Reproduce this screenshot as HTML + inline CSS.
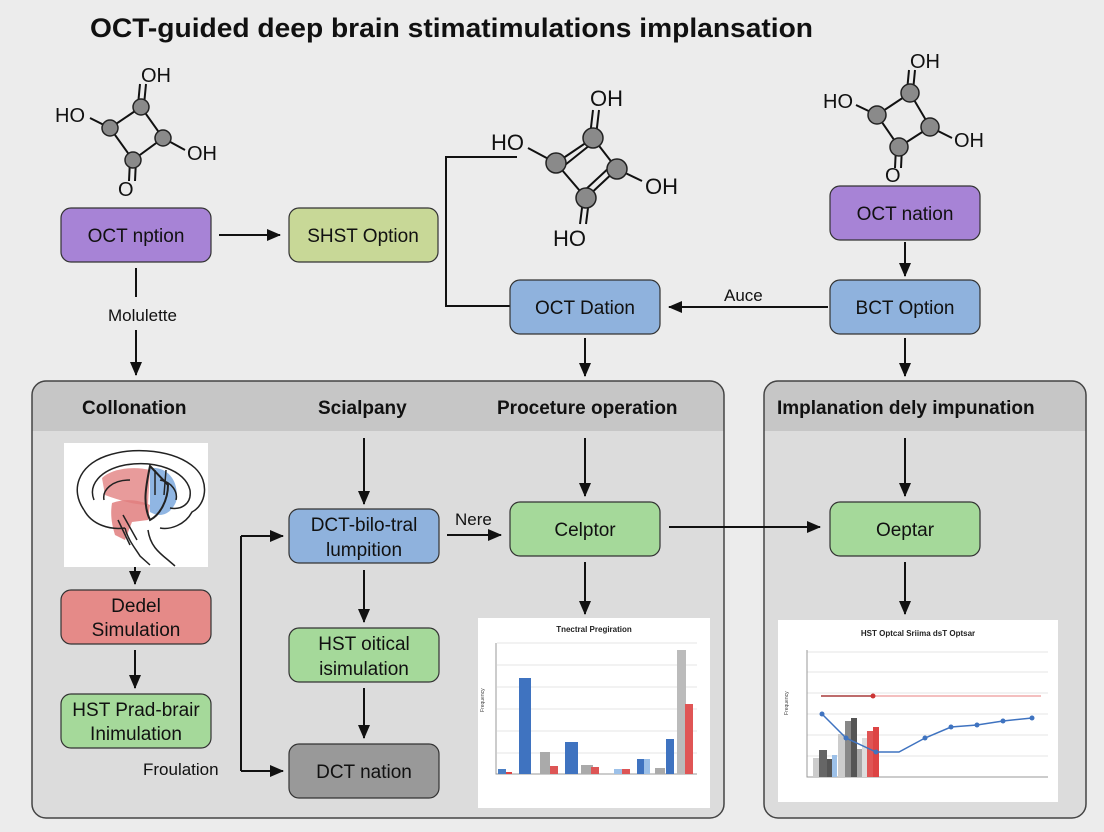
<!DOCTYPE html>
<html><head><meta charset="utf-8"><style>
html,body{margin:0;padding:0;background:#ececec;}
svg{display:block;}
text{font-family:"Liberation Sans",sans-serif;}
</style></head><body>
<svg width="1104" height="832" viewBox="0 0 1104 832" xmlns="http://www.w3.org/2000/svg">
<defs>
<marker id="b" markerWidth="14" markerHeight="14" refX="13" refY="7" orient="auto" markerUnits="userSpaceOnUse"><path d="M0,1 L14,7 L0,13 z" fill="#111"/></marker>
</defs>
<rect width="1104" height="832" fill="#ececec"/>
<text x="90" y="37" font-size="27" font-weight="bold" fill="#111" textLength="723" lengthAdjust="spacingAndGlyphs">OCT-guided deep brain stimatimulations implansation</text>

<!-- panels -->
<rect x="32" y="381" width="692" height="437" rx="14" fill="#dcdcdc"/>
<path d="M32,431 V395 a14,14 0 0 1 14,-14 H710 a14,14 0 0 1 14,14 V431 z" fill="#c6c6c6"/>
<rect x="32" y="381" width="692" height="437" rx="14" fill="none" stroke="#444" stroke-width="1.5"/>
<rect x="764" y="381" width="322" height="437" rx="14" fill="#dcdcdc"/>
<path d="M764,431 V395 a14,14 0 0 1 14,-14 H1072 a14,14 0 0 1 14,14 V431 z" fill="#c6c6c6"/>
<rect x="764" y="381" width="322" height="437" rx="14" fill="none" stroke="#444" stroke-width="1.5"/>
<g font-size="19" font-weight="bold" fill="#111">
<text x="82" y="414">Collonation</text>
<text x="318" y="414">Scialpany</text>
<text x="497" y="414">Proceture operation</text>
<text x="777" y="414">Implanation dely impunation</text>
</g>

<!-- molecules -->
<g stroke="#111" stroke-width="2" fill="none">
<path d="M110,128 L141,107 L163,138 L133,160 Z"/>
<path d="M138,105 L140,84 M144,105 L146,84"/>
<path d="M130,160 L129,181 M136,160 L135,181"/>
<path d="M110,128 L90,118 M163,138 L185,150"/>
<path d="M556,163 L593,138 L617,169 L586,198 Z"/>
<path d="M560,169 L590,145 M584,191 L612,165"/>
<path d="M590,136 L593,110 M596,136 L599,110"/>
<path d="M583,200 L580,224 M589,200 L586,224"/>
<path d="M556,163 L528,148 M617,169 L642,181"/>
<path d="M877,115 L910,93 L930,127 L899,147 Z"/>
<path d="M907,91 L909,70 M913,91 L915,70"/>
<path d="M896,147 L895,168 M902,147 L901,168"/>
<path d="M877,115 L856,105 M930,127 L952,138"/>
</g>
<g fill="#8a8a8a" stroke="#222" stroke-width="1.5">
<circle cx="110" cy="128" r="8"/><circle cx="141" cy="107" r="8"/><circle cx="163" cy="138" r="8"/><circle cx="133" cy="160" r="8"/>
<circle cx="556" cy="163" r="10"/><circle cx="593" cy="138" r="10"/><circle cx="617" cy="169" r="10"/><circle cx="586" cy="198" r="10"/>
<circle cx="877" cy="115" r="9"/><circle cx="910" cy="93" r="9"/><circle cx="930" cy="127" r="9"/><circle cx="899" cy="147" r="9"/>
</g>
<g font-size="20" fill="#111">
<text x="55" y="122">HO</text><text x="141" y="82">OH</text><text x="187" y="160">OH</text><text x="118" y="196">O</text>
<text x="491" y="150" font-size="22">HO</text><text x="590" y="106" font-size="22">OH</text><text x="645" y="194" font-size="22">OH</text><text x="553" y="246" font-size="22">HO</text>
<text x="823" y="108">HO</text><text x="910" y="68">OH</text><text x="954" y="147">OH</text><text x="885" y="182">O</text>
</g>

<!-- connectors -->
<g stroke="#111" stroke-width="2" fill="none">
<path d="M219,235 H280" marker-end="url(#b)"/>
<path d="M136,268 V297"/>
<path d="M136,330 V375" marker-end="url(#b)"/>
<path d="M517,157 H446 V306 H510"/>
<path d="M828,307 H669" marker-end="url(#b)"/>
<path d="M905,242 V276" marker-end="url(#b)"/>
<path d="M585,338 V376" marker-end="url(#b)"/>
<path d="M905,338 V376" marker-end="url(#b)"/>
<path d="M364,438 V504" marker-end="url(#b)"/>
<path d="M585,438 V496" marker-end="url(#b)"/>
<path d="M905,438 V496" marker-end="url(#b)"/>
<path d="M447,535 H501" marker-end="url(#b)"/>
<path d="M669,527 H820" marker-end="url(#b)"/>
<path d="M364,570 V622" marker-end="url(#b)"/>
<path d="M364,688 V738" marker-end="url(#b)"/>
<path d="M135,565 V584" marker-end="url(#b)"/>
<path d="M135,650 V688" marker-end="url(#b)"/>
<path d="M241,536 V771"/>
<path d="M241,536 H283" marker-end="url(#b)"/>
<path d="M241,771 H283" marker-end="url(#b)"/>
<path d="M585,562 V614" marker-end="url(#b)"/>
<path d="M905,562 V614" marker-end="url(#b)"/>
</g>
<g font-size="17" fill="#111">
<text x="108" y="321">Molulette</text>
<text x="724" y="301">Auce</text>
<text x="455" y="525">Nere</text>
<text x="143" y="775">Froulation</text>
</g>

<!-- nodes -->
<g stroke="#333" stroke-width="1.2">
<rect x="61" y="208" width="150" height="54" rx="10" fill="#a783d6"/>
<rect x="289" y="208" width="149" height="54" rx="10" fill="#c8d897"/>
<rect x="830" y="186" width="150" height="54" rx="10" fill="#a783d6"/>
<rect x="510" y="280" width="150" height="54" rx="10" fill="#8fb2dd"/>
<rect x="830" y="280" width="150" height="54" rx="10" fill="#8fb2dd"/>
<rect x="289" y="509" width="150" height="54" rx="10" fill="#8fb2dd"/>
<rect x="510" y="502" width="150" height="54" rx="10" fill="#a5d99a"/>
<rect x="830" y="502" width="150" height="54" rx="10" fill="#a5d99a"/>
<rect x="61" y="590" width="150" height="54" rx="10" fill="#e58a88"/>
<rect x="61" y="694" width="150" height="54" rx="10" fill="#a5d99a"/>
<rect x="289" y="628" width="150" height="54" rx="10" fill="#a5d99a"/>
<rect x="289" y="744" width="150" height="54" rx="10" fill="#999"/>
</g>
<g font-size="19" fill="#111" text-anchor="middle">
<text x="136" y="242">OCT nption</text>
<text x="363" y="242">SHST Option</text>
<text x="905" y="220">OCT nation</text>
<text x="585" y="314">OCT Dation</text>
<text x="905" y="314">BCT Option</text>
<text x="364" y="531">DCT-bilo-tral</text><text x="364" y="556">lumpition</text>
<text x="585" y="536">Celptor</text>
<text x="905" y="536">Oeptar</text>
<text x="136" y="612">Dedel</text><text x="136" y="636">Simulation</text>
<text x="136" y="716">HST Prad-brair</text><text x="136" y="740">Inimulation</text>
<text x="364" y="650">HST oitical</text><text x="364" y="675">isimulation</text>
<text x="364" y="778">DCT nation</text>
</g>

<!-- brain -->
<rect x="64" y="443" width="144" height="124" fill="#fff"/>
<path d="M102,478 C112,468 135,466 150,470 L148,505 C135,505 118,500 105,495 Z" fill="#e48a8a" opacity="0.85"/>
<path d="M112,503 C125,498 140,500 150,505 L148,520 L132,522 L125,540 L115,535 C112,525 110,515 112,503 Z" fill="#e07e7e" opacity="0.85"/>
<path d="M150,468 C168,466 180,482 176,502 C170,515 160,518 150,512 Z" fill="#90b6e3"/>
<g stroke="#222" stroke-width="1.5" fill="none">
<path d="M84,510 C70,490 78,466 106,456 C135,446 175,450 195,468 C210,482 206,505 192,512 C185,525 170,530 160,528"/>
<path d="M84,510 C92,525 110,530 125,528"/>
<path d="M94,500 C88,485 100,470 125,465 C155,460 185,470 190,490 C192,505 180,510 170,508"/>
<path d="M104,500 C102,490 112,480 130,480 M160,480 C172,482 178,492 176,500"/>
<path d="M125,528 C128,540 135,548 140,556 L150,565 M148,530 C150,545 158,552 168,560 L175,566"/>
<path d="M118,520 L130,545 M123,515 L137,540"/>
<path d="M150,466 C145,490 143,505 150,520 C160,515 168,500 168,485 Z" stroke-width="2"/>
<path d="M155,470 L155,495 M166,470 L164,495"/>
</g>

<!-- chart 1 -->
<rect x="478" y="618" width="232" height="190" fill="#fff"/>
<text x="594" y="632" font-size="8" font-weight="bold" text-anchor="middle" fill="#222">Tnectral Pregiration</text>
<g stroke="#e4e4e4" stroke-width="1">
<path d="M497,643 H697 M497,665 H697 M497,687 H697 M497,709 H697 M497,731 H697 M497,753 H697"/>
</g>
<path d="M496,643 V774 H697" stroke="#999" fill="none"/>
<g>
<rect x="498" y="769" width="8" height="5" fill="#4a7ec4"/><rect x="506" y="772" width="6" height="2" fill="#d44"/>
<rect x="519" y="678" width="12" height="96" fill="#3f73c0"/>
<rect x="540" y="752" width="10" height="22" fill="#aaa"/><rect x="550" y="766" width="8" height="8" fill="#d55"/>
<rect x="565" y="742" width="13" height="32" fill="#3f73c0"/>
<rect x="581" y="765" width="12" height="9" fill="#aaa"/><rect x="591" y="767" width="8" height="7" fill="#d55"/>
<rect x="614" y="769" width="8" height="5" fill="#9cc0e8"/><rect x="622" y="769" width="8" height="5" fill="#d55"/>
<rect x="637" y="759" width="7" height="15" fill="#3f73c0"/><rect x="644" y="759" width="6" height="15" fill="#9cc0e8"/>
<rect x="655" y="768" width="10" height="6" fill="#aaa"/>
<rect x="666" y="739" width="8" height="35" fill="#3f73c0"/>
<rect x="677" y="650" width="9" height="124" fill="#bbb"/>
<rect x="685" y="704" width="8" height="70" fill="#e05555"/>
</g>
<text x="484" y="712" font-size="5" fill="#444" transform="rotate(-90 484 712)">Frequency</text>

<!-- chart 2 -->
<rect x="778" y="620" width="280" height="182" fill="#fff"/>
<text x="918" y="636" font-size="8" font-weight="bold" text-anchor="middle" fill="#222">HST Optcal Sriima dsT Optsar</text>
<g stroke="#e4e4e4" stroke-width="1">
<path d="M807,652 H1048 M807,672 H1048 M807,693 H1048 M807,714 H1048 M807,735 H1048 M807,756 H1048"/>
</g>
<path d="M807,650 V777 H1048" stroke="#999" fill="none"/>
<rect x="813" y="758" width="6" height="19" fill="#ccc"/><rect x="819" y="750" width="8" height="27" fill="#666"/><rect x="827" y="759" width="5" height="18" fill="#555"/><rect x="832" y="755" width="5" height="22" fill="#9cc0e8"/>
<rect x="838" y="734" width="7" height="43" fill="#ccc"/><rect x="845" y="721" width="6" height="56" fill="#888"/><rect x="851" y="718" width="6" height="59" fill="#555"/><rect x="857" y="749" width="5" height="28" fill="#aaa"/>
<rect x="862" y="738" width="5" height="39" fill="#ddd"/><rect x="867" y="731" width="6" height="46" fill="#e05555"/><rect x="873" y="727" width="6" height="50" fill="#d44"/>
<path d="M821,696 H1041" stroke="#e99" stroke-width="1.2"/>
<path d="M821,696 H873" stroke="#a44" stroke-width="1.5"/><circle cx="873" cy="696" r="2.5" fill="#c33"/>
<polyline points="822,714 846,738 876,752 899,752 925,738 951,727 977,725 1003,721 1032,718" fill="none" stroke="#3f73c0" stroke-width="1.5"/>
<g fill="#3f73c0"><circle cx="822" cy="714" r="2.5"/><circle cx="846" cy="738" r="2.5"/><circle cx="876" cy="752" r="2.5"/><circle cx="925" cy="738" r="2.5"/><circle cx="951" cy="727" r="2.5"/><circle cx="977" cy="725" r="2.5"/><circle cx="1003" cy="721" r="2.5"/><circle cx="1032" cy="718" r="2.5"/></g>
<text x="788" y="715" font-size="5" fill="#444" transform="rotate(-90 788 715)">Frequency</text>
</svg>
</body></html>
